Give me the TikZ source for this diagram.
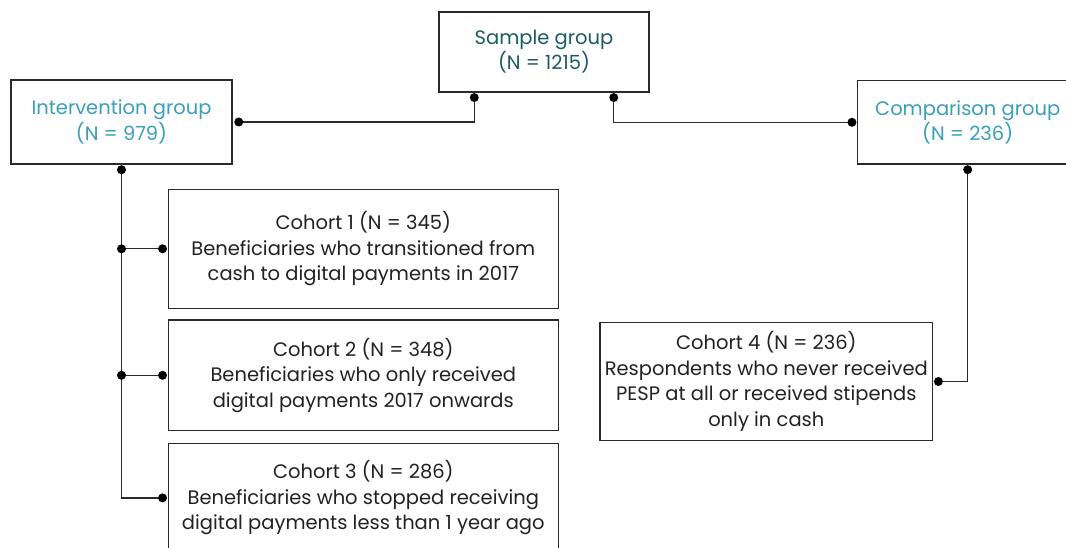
\documentclass[tikz,border=0pt]{standalone}
\usepackage{fontspec}
\setmainfont{Poppins}
\usetikzlibrary{calc}
\definecolor{darkteal}{HTML}{1D5A66}
\definecolor{lightteal}{HTML}{3A9FB9}
\definecolor{boxline}{HTML}{2A2A2A}
\definecolor{txt}{HTML}{222222}
\tikzset{
  box/.style={draw=boxline, line width=1.5pt, rectangle, align=center, inner sep=0pt,
    font=\fontsize{19.5}{25.5}\selectfont, text=txt},
  link/.style={draw=boxline, line width=1.4pt},
  dotm/.style={fill=black, circle, inner sep=0pt, minimum size=9pt}
}
\begin{document}
\begin{tikzpicture}[x=1pt, y=-1pt]
\clip (0,0) rectangle (1066,548);
\fill[white] (0,0) rectangle (1066,548);

\node[box, text=darkteal, minimum width=210pt, minimum height=80pt] (sample) at (544,51.8) {Sample group\\(N = 1215)};
\node[box, text=lightteal, minimum width=221pt, minimum height=84pt] (int) at (121.5,122) {Intervention group\\(N = 979)};
\node[box, text=lightteal, minimum width=220pt, minimum height=83.3pt] (comp) at (967.7,122.3) {Comparison group\\(N = 236)};
\node[box, minimum width=390pt, minimum height=119pt] (c1) at (363.3,248.8) {Cohort 1 (N = 345)\\Beneficiaries who transitioned from\\cash to digital payments in 2017};
\node[box, minimum width=390pt, minimum height=110.7pt] (c2) at (363.3,375.3) {Cohort 2 (N = 348)\\Beneficiaries who only received\\digital payments 2017 onwards};
\node[box, minimum width=390pt, minimum height=108.6pt] (c3) at (363.3,497.9) {Cohort 3 (N = 286)\\Beneficiaries who stopped receiving\\digital payments less than 1 year ago};
\node[box, minimum width=332.7pt, minimum height=118.4pt] (c4) at (766.3,381.5) {Cohort 4 (N = 236)\\Respondents who never received\\PESP at all or received stipends\\only in cash};

% connection end points (dots sit just outside the boxes)
\coordinate (sL) at ($(sample.south west)+(36,5)$);
\coordinate (sR) at ($(sample.south east)+(-36,5)$);
\coordinate (iE) at ($(int.east)+(6,0)$);
\coordinate (iS) at ($(int.south)+(0,5)$);
\coordinate (cW) at ($(comp.west)+(-5,0)$);
\coordinate (cS) at ($(comp.south)+(0,5)$);
\coordinate (c1W) at ($(c1.west)+(-5,0)$);
\coordinate (c2W) at ($(c2.west)+(-5,0)$);
\coordinate (c3W) at ($(c3.west)+(-5,0)$);
\coordinate (c4E) at ($(c4.east)+(5,0)$);
\coordinate (j1) at (iS |- c1W);
\coordinate (j2) at (iS |- c2W);

\draw[link] (sL) |- (iE);
\draw[link] (sR) |- (cW);
\draw[link] (iS) |- (c3W);
\draw[link] (j1) -- (c1W);
\draw[link] (j2) -- (c2W);
\draw[link] (cS) |- (c4E);

\foreach \p in {sL,sR,iE,iS,cW,cS,c1W,c2W,c3W,c4E,j1,j2}
  \node[dotm] at (\p) {};
\end{tikzpicture}
\end{document}
